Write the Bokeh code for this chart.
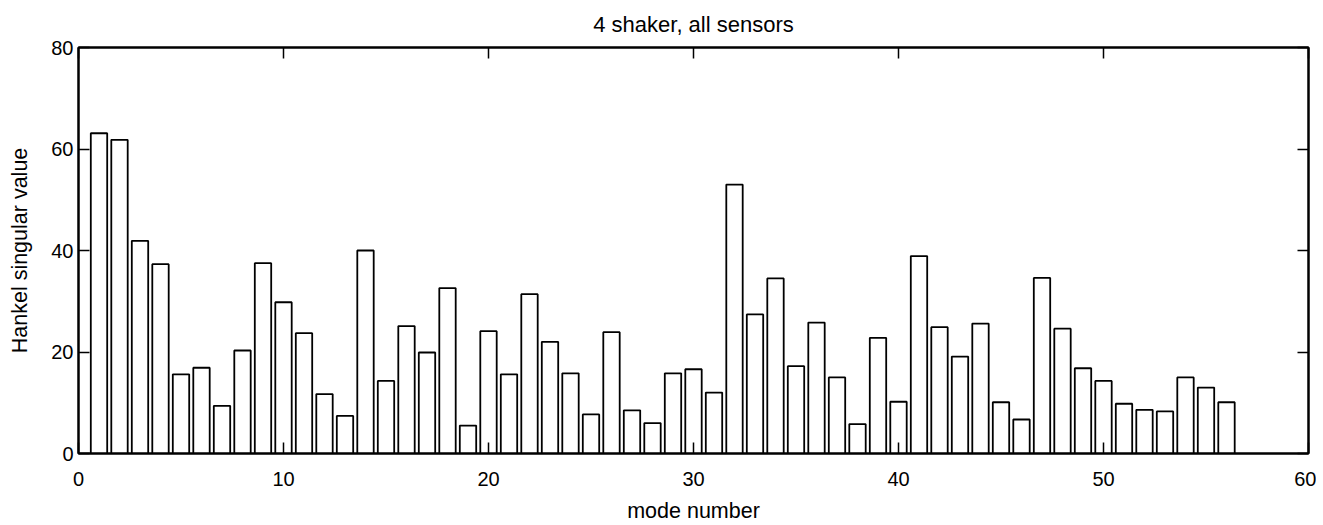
from bokeh.plotting import figure
from bokeh.models import LinearAxis, Range1d, FixedTicker, ColumnDataSource
from bokeh.embed import file_html
from bokeh.resources import INLINE

# ---- data ----
modes = list(range(1, 57))
values = [63.1, 61.8, 41.9, 37.3, 15.6, 16.9, 9.4, 20.3, 37.5, 29.8,
          23.7, 11.7, 7.4, 40.0, 14.3, 25.1, 19.9, 32.6, 5.5, 24.1,
          15.6, 31.4, 22.0, 15.8, 7.7, 23.9, 8.5, 6.0, 15.8, 16.6,
          12.0, 53.0, 27.4, 34.5, 17.2, 25.8, 15.0, 5.8, 22.8, 10.2,
          38.9, 24.9, 19.1, 25.6, 10.1, 6.7, 34.6, 24.6, 16.8, 14.3,
          9.8, 8.6, 8.3, 15.0, 13.0, 10.1]
x_ticks = [0, 10, 20, 30, 40, 50, 60]
y_ticks = [0, 20, 40, 60, 80]
title_text = "4 shaker, all sensors"
x_label = "mode number"
y_label = "Hankel singular value"

FONT = "Liberation Sans"

source = ColumnDataSource(data=dict(mode=modes, value=values))

p = figure(width=1316, height=525,
           x_range=Range1d(0, 60), y_range=Range1d(0, 80),
           output_backend="svg", toolbar_location=None,
           min_border_left=78, min_border_right=8,
           min_border_top=47, min_border_bottom=72)

p.vbar(x="mode", top="value", width=0.8, bottom=0, source=source,
       fill_color="white", line_color="black", line_width=1.8)

p.grid.visible = False
p.background_fill_color = "white"
p.border_fill_color = "white"
p.outline_line_color = "black"
p.outline_line_width = 2

for ax in (p.xaxis[0], p.yaxis[0]):
    ax.major_tick_in = 11
    ax.major_tick_out = 0
    ax.minor_tick_in = 0
    ax.minor_tick_out = 0
    ax.axis_line_color = "black"
    ax.axis_line_width = 2
    ax.major_tick_line_color = "black"
    ax.major_tick_line_width = 1.5
    ax.major_label_text_font = FONT
    ax.major_label_text_font_size = "20px"
    ax.major_label_text_color = "black"
    ax.axis_label_text_font = FONT
    ax.axis_label_text_font_size = "21.5px"
    ax.axis_label_text_font_style = "normal"
    ax.axis_label_text_color = "black"

p.xaxis[0].ticker = FixedTicker(ticks=x_ticks)
p.yaxis[0].ticker = FixedTicker(ticks=y_ticks)
p.xaxis[0].axis_label = x_label
p.yaxis[0].axis_label = y_label
p.xaxis[0].major_label_standoff = 18
p.xaxis[0].axis_label_standoff = 10
p.yaxis[0].major_label_standoff = 5
p.yaxis[0].axis_label_standoff = 16

# inner ticks on the top and right frame edges (no labels: minor ticks only)
top_axis = LinearAxis(ticker=FixedTicker(ticks=[], minor_ticks=x_ticks),
                      major_tick_in=0, major_tick_out=0,
                      minor_tick_in=11, minor_tick_out=0,
                      minor_tick_line_width=1.5, minor_tick_line_color="black",
                      axis_line_width=2, axis_line_color="black")
right_axis = LinearAxis(ticker=FixedTicker(ticks=[], minor_ticks=y_ticks),
                        major_tick_in=0, major_tick_out=0,
                        minor_tick_in=11, minor_tick_out=0,
                        minor_tick_line_width=1.5, minor_tick_line_color="black",
                        axis_line_width=2, axis_line_color="black")
p.add_layout(top_axis, "above")
p.add_layout(right_axis, "right")

p.title.text = title_text
p.title.align = "center"
p.title.vertical_align = "top"
p.title.text_font = FONT
p.title.text_font_size = "22px"
p.title.text_font_style = "normal"
p.title.text_color = "black"
p.title.standoff = 17

open("out.html", "w").write(file_html(p, INLINE))
